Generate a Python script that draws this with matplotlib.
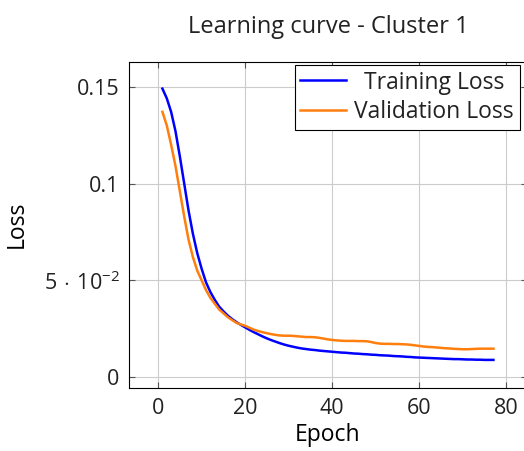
import matplotlib
matplotlib.use("Agg")
import matplotlib.pyplot as plt

plt.rcParams['font.family'] = ['Open Sans', 'DejaVu Sans']
plt.rcParams['mathtext.fontset'] = 'custom'
plt.rcParams['mathtext.rm'] = 'Open Sans'
plt.rcParams['mathtext.it'] = 'Open Sans'
plt.rcParams['mathtext.bf'] = 'Open Sans'
plt.rcParams['text.color'] = '#222222'

epochs = list(range(1, 78))

train_loss = [
    0.149, 0.144, 0.137, 0.127, 0.114, 0.100, 0.086, 0.074, 0.064, 0.056,
    0.049, 0.044, 0.040, 0.0365, 0.034, 0.0318, 0.0300, 0.0284, 0.0270, 0.0257,
    0.0244, 0.0232, 0.0221, 0.0210, 0.0200, 0.0191, 0.0183, 0.0175, 0.0168, 0.0162,
    0.0157, 0.0152, 0.0148, 0.0145, 0.0142, 0.0140, 0.0137, 0.0135, 0.0133, 0.0131,
    0.0129, 0.0127, 0.0126, 0.0124, 0.0122, 0.0121, 0.0119, 0.0118, 0.0116, 0.0115,
    0.0113, 0.0112, 0.0111, 0.0109, 0.0108, 0.0107, 0.0105, 0.0104, 0.0102, 0.0101,
    0.0100, 0.0099, 0.0098, 0.0097, 0.0096, 0.0095, 0.0094, 0.0093, 0.0093, 0.0092,
    0.0091, 0.0091, 0.0090, 0.0090, 0.0089, 0.0089, 0.0089,
]

val_loss = [
    0.137, 0.130, 0.120, 0.109, 0.096, 0.083, 0.071, 0.062, 0.055, 0.050,
    0.045, 0.041, 0.038, 0.035, 0.033, 0.031, 0.0295, 0.028, 0.0272, 0.0265,
    0.0255, 0.0245, 0.0238, 0.0232, 0.0227, 0.0222, 0.0218, 0.0215, 0.0214, 0.0214,
    0.0213, 0.0211, 0.0209, 0.0207, 0.0207, 0.0206, 0.0203, 0.0199, 0.0195, 0.0192,
    0.0190, 0.0188, 0.0187, 0.0187, 0.0187, 0.0186, 0.0186, 0.0185, 0.0181, 0.0176,
    0.0173, 0.0172, 0.0172, 0.0171, 0.0171, 0.0170, 0.0169, 0.0167, 0.0164, 0.0161,
    0.0158, 0.0156, 0.0155, 0.0153, 0.0151, 0.0149, 0.0148, 0.0146, 0.0145, 0.0144,
    0.0144, 0.0145, 0.0146, 0.0147, 0.0147, 0.0147, 0.0147,
]

x_ticks = [0, 20, 40, 60, 80]
y_ticks = [0, 0.05, 0.1, 0.15]
y_tick_labels = ['0', r'$5\,\cdot\,10^{-2}$', '0.1', '0.15']

title = 'Learning curve - Cluster 1'
series_labels = ['Training Loss', 'Validation Loss']
series_colors = ['#0000ff', '#ff7f0e']

fig = plt.figure(figsize=(5.24, 4.51), dpi=100)
ax = fig.add_axes([0.2468, 0.1397, 0.758, 0.7239])

for ys, lab, col in zip([train_loss, val_loss], series_labels, series_colors):
    ax.plot(epochs, ys, color=col, lw=1.8, label=lab, solid_joinstyle='round')

# axis limits with a 10% margin around the data, as in pgfplots
xr = max(epochs) - min(epochs)
ax.set_xlim(min(epochs) - 0.1 * xr, max(epochs) + 0.1 * xr)
lo = min(min(train_loss), min(val_loss))
hi = max(max(train_loss), max(val_loss))
yr = hi - lo
ax.set_ylim(lo - 0.1 * yr - 0.0005, hi + 0.1 * yr)

ax.set_xticks(x_ticks)
ax.set_yticks(y_ticks)
ax.set_yticklabels(y_tick_labels)
ax.grid(True, color='#cccccc', lw=0.8)
ax.set_axisbelow(True)
ax.tick_params(direction='in', length=4, width=0.8, color='#555555',
               labelcolor='#222222', top=True, right=True, labelsize=15.5, pad=7)
for s in ax.spines.values():
    s.set_linewidth(0.8)
    s.set_color('black')

ax.set_xlabel('Epoch', fontsize=16.5, labelpad=3)
ax.set_ylabel('Loss', fontsize=16.5, labelpad=11)
ax.set_title(title, fontsize=17, pad=20.5)

leg = ax.legend(loc='upper right', bbox_to_anchor=(0.9825, 0.99), fontsize=16.5,
                frameon=True, fancybox=False, edgecolor='black', framealpha=1,
                handlelength=2.0, handletextpad=0.35, borderpad=0.25,
                labelspacing=0.25, borderaxespad=0.0)
leg.get_frame().set_linewidth(0.8)

# center the shorter legend entry under the longer one
fig.canvas.draw()
r = fig.canvas.get_renderer()
texts = leg.get_texts()
widths = [t.get_window_extent(r).width for t in texts]
wmax = max(widths)
for t, w in zip(texts, widths):
    t.set_x((wmax - w) / 2)

fig.savefig('out.png', dpi=100)
